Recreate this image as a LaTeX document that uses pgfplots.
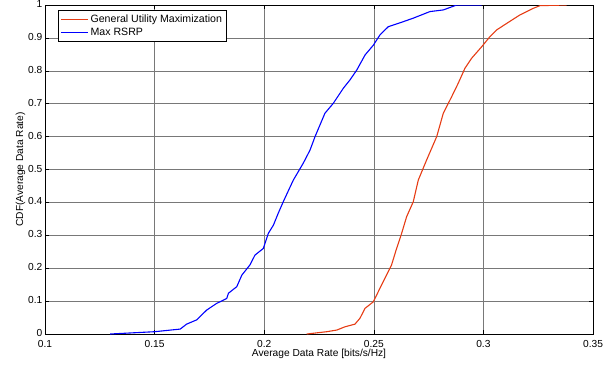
\documentclass[border=0pt]{standalone}
\usepackage{fontspec}
\setmainfont{Liberation Sans}
\usepackage{pgfplots}
\pgfplotsset{compat=1.18}
\definecolor{gumred}{RGB}{230,60,20}
\definecolor{gridgray}{RGB}{120,120,120}
\begin{document}
\fontsize{10.2bp}{12bp}\selectfont
\begin{tikzpicture}
\begin{axis}[
  scale only axis,
  width=548bp, height=329bp,
  xmin=0.1, xmax=0.35, ymin=0, ymax=1,
  xtick={0.1,0.15,0.2,0.25,0.3,0.35},
  xticklabels={0.1,0.15,0.2,0.25,0.3,0.35},
  ytick={0,0.1,0.2,0.3,0.4,0.5,0.6,0.7,0.8,0.9,1},
  yticklabels={0,0.1,0.2,0.3,0.4,0.5,0.6,0.7,0.8,0.9,1},
  tick align=inside,
  tick pos=both,
  major tick length=4bp,
  grid=major,
  major grid style={gridgray, line width=0.6bp},
  axis line style={black, line width=0.9bp},
  tick style={black, line width=0.6bp},
  tick label style={font=\fontsize{10.2bp}{12bp}\selectfont},
  xticklabel style={yshift=-5.5bp, inner ysep=1bp},
  yticklabel style={xshift=1bp, yshift=1bp, inner ysep=0.5bp, text depth=0pt},
  label style={font=\fontsize{10.2bp}{12bp}\selectfont},
  xlabel={Average Data Rate [bits/s/Hz]},
  ylabel={CDF(Average Data Rate)},
  xlabel style={yshift=3bp},
  ylabel style={yshift=-4bp},
  legend style={at={(0.0237,0.985)}, anchor=north west, draw=black, line width=0.8bp,
    font=\fontsize{10.6bp}{12bp}\selectfont, inner xsep=2bp, inner ysep=2.5bp, row sep=0bp,
    legend cell align=left},
  legend image code/.code={\draw[#1, line width=1.2bp] (3bp,0bp) -- (30bp,0bp);},
]
\addplot[gumred, line width=1.1bp] coordinates {
(0.2194,0) (0.2285,0.007) (0.2331,0.012) (0.2369,0.022) (0.2414,0.03)
(0.2437,0.048) (0.246,0.078) (0.2498,0.098) (0.2528,0.139) (0.2558,0.179)
(0.2581,0.21) (0.2604,0.26) (0.2627,0.306) (0.265,0.357) (0.268,0.402)
(0.2703,0.468) (0.2741,0.529) (0.2787,0.6) (0.2817,0.671) (0.2855,0.721)
(0.2885,0.762) (0.2916,0.808) (0.2946,0.838) (0.2992,0.873) (0.303,0.904)
(0.306,0.924) (0.3106,0.944) (0.3167,0.97) (0.3228,0.99) (0.3258,0.998)
(0.338,1.0)
};
\addlegendentry{General Utility Maximization}
\addplot[blue, line width=1.1bp] coordinates {
(0.1297,0) (0.15,0.007) (0.1617,0.015) (0.1646,0.03) (0.1692,0.043)
(0.1738,0.073) (0.1783,0.093) (0.1829,0.108) (0.1837,0.124) (0.1875,0.144)
(0.1898,0.179) (0.1935,0.21) (0.1958,0.24) (0.1996,0.26) (0.2019,0.306)
(0.2042,0.331) (0.2064,0.367) (0.2087,0.402) (0.2105,0.428) (0.2133,0.468)
(0.2178,0.519) (0.2209,0.559) (0.2232,0.6) (0.2277,0.671) (0.2315,0.701)
(0.2361,0.747) (0.2391,0.772) (0.2422,0.802) (0.246,0.848) (0.2498,0.878)
(0.2528,0.909) (0.2566,0.934) (0.262,0.946) (0.268,0.96) (0.2756,0.98)
(0.2817,0.985) (0.2878,1.0) (0.2992,1.0)
};
\addlegendentry{Max RSRP}
\coordinate (sw) at (rel axis cs:0,0);
\coordinate (ne) at (rel axis cs:1,1);
\end{axis}
\path[use as bounding box] ([shift={(-45bp,-31bp)}]sw) rectangle ([shift={(23bp,5bp)}]ne);
\end{tikzpicture}
\end{document}
